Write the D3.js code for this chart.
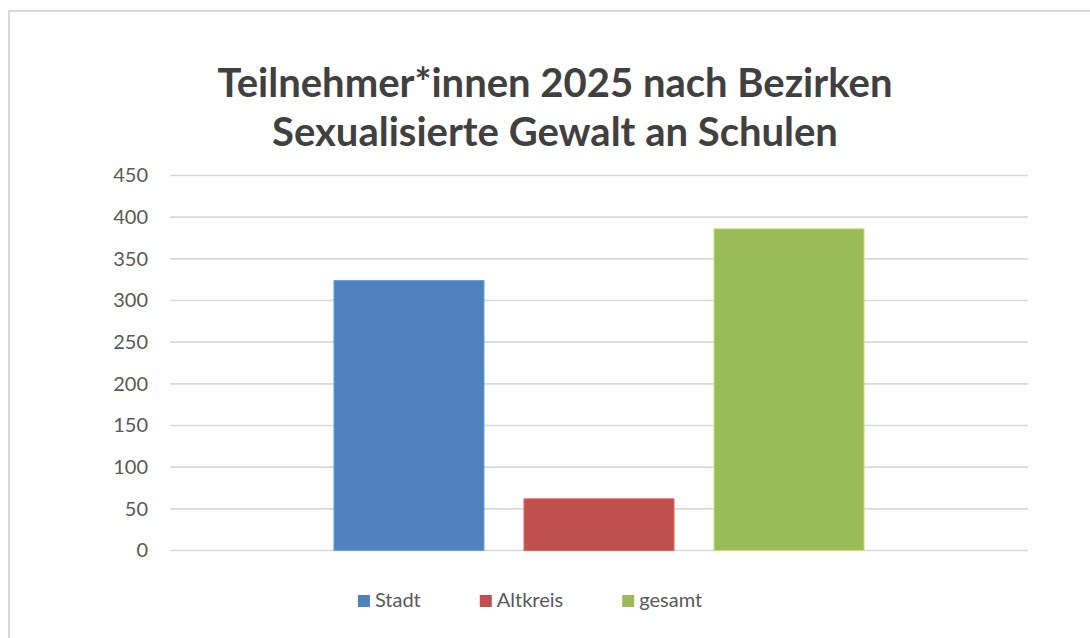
<!DOCTYPE html>
<html>
<head>
<meta charset="utf-8">
<script src="https://cdn.jsdelivr.net/npm/d3@7"></script>
<style>
  body { margin: 0; background: #fff; }
  svg { display: block; }
  .tick text { font-family: Lato, "Open Sans", sans-serif; fill: #595959; }
</style>
</head>
<body>
<div id="chart"></div>
<script>
var series = ["Stadt", "Altkreis", "gesamt"];
var values = [324, 62, 386];
var colors = ["#4f81bd", "#c0504d", "#9bbb59"];
var yTicks = [0, 50, 100, 150, 200, 250, 300, 350, 400, 450];
var titleLines = ["Teilnehmer*innen 2025 nach Bezirken", "Sexualisierte Gewalt an Schulen"];

var W = 1090, H = 638;
var margin = {top: 175.5, right: 62, bottom: 87.5, left: 170},
  width = W - margin.left - margin.right,
  height = H - margin.top - margin.bottom;

var svg = d3.select("#chart").append("svg")
  .attr("width", W)
  .attr("height", H);

// chart area frame (right and bottom edges are off screen)
svg.append("rect")
  .attr("x", 9).attr("y", 11)
  .attr("width", 1200).attr("height", 800)
  .attr("fill", "none")
  .attr("stroke", "#d9d9d9")
  .attr("stroke-width", 2);

// title
svg.append("g").selectAll("text")
  .data(titleLines)
  .enter().append("text")
  .attr("x", 555)
  .attr("y", function(d, i) { return 97 + i * 49; })
  .attr("text-anchor", "middle")
  .style("font-family", "Lato, 'Open Sans', sans-serif")
  .style("font-weight", "bold")
  .style("font-size", "40px")
  .style("fill", "#404040")
  .text(function(d) { return d; });

var g = svg.append("g")
  .attr("transform", "translate(" + margin.left + "," + margin.top + ")");

var x = d3.scaleBand().domain(series).range([0, width])
  .paddingInner(0.2105).paddingOuter(0.863);
var y = d3.scaleLinear().domain([0, 450]).range([height, 0]);

// gridlines
g.selectAll(".grid")
  .data(yTicks)
  .enter().append("line")
  .attr("class", "grid")
  .attr("x1", 0).attr("x2", width)
  .attr("y1", function(d) { return y(d); })
  .attr("y2", function(d) { return y(d); })
  .attr("stroke", "#d9d9d9")
  .attr("stroke-width", 1.6);

// y axis labels
var yAxis = g.append("g")
  .call(d3.axisLeft(y).tickValues(yTicks).tickSize(0).tickPadding(22));
yAxis.select(".domain").remove();
yAxis.selectAll("text").style("font-size", "20px");

// bars
g.selectAll(".bar")
  .data(values)
  .enter().append("rect")
  .attr("class", "bar")
  .attr("x", function(d, i) { return x(series[i]); })
  .attr("width", x.bandwidth())
  .attr("y", function(d) { return y(d); })
  .attr("height", function(d) { return height - y(d); })
  .attr("fill", function(d, i) { return colors[i]; })
  .attr("stroke", function(d, i) { return d3.color(colors[i]).brighter(0.6); })
  .attr("stroke-width", 1);

// legend
var legend = svg.append("g");
var items = legend.selectAll("g")
  .data(series)
  .enter().append("g");

items.append("rect")
  .attr("width", 12).attr("height", 12)
  .attr("y", -12)
  .attr("fill", function(d, i) { return colors[i]; });

items.append("text")
  .attr("x", 17)
  .attr("y", 0)
  .style("font-family", "Lato, 'Open Sans', sans-serif")
  .style("font-size", "20px")
  .style("fill", "#595959")
  .text(function(d) { return d; });

var offset = 0, widths = [];
items.each(function() {
  var w = 17 + d3.select(this).select("text").node().getComputedTextLength();
  widths.push(w);
});
var total = d3.sum(widths) + 59 * (series.length - 1);
var startX = 530 - total / 2;
items.attr("transform", function(d, i) {
  var tx = startX + offset;
  offset += widths[i] + 59;
  return "translate(" + tx + ",607)";
});
</script>
</body>
</html>
